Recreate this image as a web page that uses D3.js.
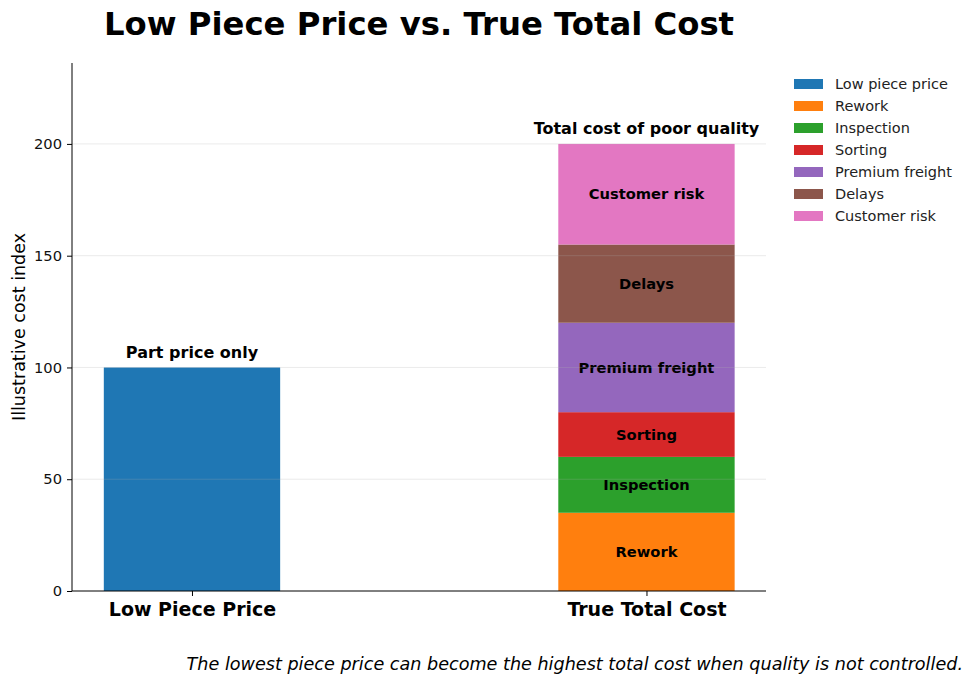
<!DOCTYPE html>
<html>
<head>
<meta charset="utf-8">
<script src="https://cdn.jsdelivr.net/npm/d3@7"></script>
<style>
  body { margin: 0; background: #fff; }
  text { font-family: "DejaVu Sans", sans-serif; }
</style>
</head>
<body>
<div id="chart"></div>
<script>
// chart data
const categories = ["Low Piece Price", "True Total Cost"]
const priceSeries = [{ name: "Low piece price", value: 100 }]
const costNames = ["Rework", "Inspection", "Sorting", "Premium freight", "Delays", "Customer risk"]
const costValues = [35, 25, 20, 40, 35, 45]
const legendNames = ["Low piece price", ...costNames]
const colors = ["#1f77b4", "#ff7f0e", "#2ca02c", "#d62728", "#9467bd", "#8c564b", "#e377c2"]
const yTicks = [0, 50, 100, 150, 200]

const width = 974
const height = 684
const margin = { left: 72, right: 208, top: 63, bottom: 93 }
const barWidth = 0.388

const svg = d3.select("#chart")
    .append("svg")
    .attr("width", width)
    .attr("height", height)

const x = d3.scaleLinear()
    .domain([-0.264, 1.263])
    .range([margin.left, width - margin.right])

const y = d3.scaleLinear()
    .domain([0, 236.2])
    .range([height - margin.bottom, margin.top])

const color = d3.scaleOrdinal(legendNames, colors)

// left bar
svg.append("g")
    .selectAll("rect")
    .data(priceSeries)
    .join("rect")
    .attr("x", x(0 - barWidth / 2))
    .attr("width", x(barWidth) - x(0))
    .attr("y", d => y(d.value))
    .attr("height", d => y(0) - y(d.value))
    .attr("fill", d => color(d.name))

svg.append("text")
    .attr("x", x(0))
    .attr("y", y(priceSeries[0].value) - 9)
    .attr("text-anchor", "middle")
    .style("font-size", "16px")
    .style("font-weight", "bold")
    .text("Part price only")

// stacked bar
const stackData = costNames.map((name, i) => ({
    name,
    start: d3.sum(costValues.slice(0, i)),
    end: d3.sum(costValues.slice(0, i + 1))
}))

const seg = svg.append("g")
    .selectAll("g")
    .data(stackData)
    .join("g")

seg.append("rect")
    .attr("x", x(1 - barWidth / 2))
    .attr("width", x(barWidth) - x(0))
    .attr("y", d => y(d.end))
    .attr("height", d => y(d.start) - y(d.end))
    .attr("fill", d => color(d.name))

seg.append("text")
    .attr("x", x(1))
    .attr("y", d => y((d.start + d.end) / 2))
    .attr("dy", "0.35em")
    .attr("text-anchor", "middle")
    .style("font-size", "14.7px")
    .style("font-weight", "bold")
    .text(d => d.name)

svg.append("text")
    .attr("x", x(1))
    .attr("y", y(d3.sum(costValues)) - 10)
    .attr("text-anchor", "middle")
    .style("font-size", "16px")
    .style("font-weight", "bold")
    .text("Total cost of poor quality")

// grid lines, faint, drawn over the bars
svg.append("g")
    .selectAll("line")
    .data(yTicks.slice(1))
    .join("line")
    .attr("x1", x.range()[0])
    .attr("x2", x.range()[1])
    .attr("y1", d => y(d))
    .attr("y2", d => y(d))
    .attr("stroke", "#b0b0b0")
    .attr("stroke-opacity", 0.25)
    .attr("stroke-width", 1)

// axes
const yAxis = svg.append("g")
    .attr("transform", `translate(${margin.left},0)`)
    .call(d3.axisLeft(y).tickValues(yTicks).tickSize(5).tickPadding(5))
yAxis.selectAll("text").style("font-size", "14.7px").attr("fill", "#111")
yAxis.select(".domain").attr("d", `M0,${y.range()[0]}V${y.range()[1]}`)

const xAxis = svg.append("g")
    .attr("transform", `translate(0,${height - margin.bottom})`)
    .call(d3.axisBottom(x).tickValues([0, 1]).tickSize(5).tickPadding(7)
        .tickFormat((d, i) => categories[i]))
xAxis.selectAll("text")
    .style("font-size", "19px")
    .style("font-weight", "bold")
    .attr("fill", "#000")
xAxis.select(".domain").attr("d", `M${x.range()[0]},0H${x.range()[1]}`)

svg.append("text")
    .attr("transform", `translate(25,${(y.range()[0] + y.range()[1]) / 2}) rotate(-90)`)
    .attr("text-anchor", "middle")
    .style("font-size", "17.5px")
    .text("Illustrative cost index")

// title
svg.append("text")
    .attr("x", (x.range()[0] + x.range()[1]) / 2)
    .attr("y", 35)
    .attr("text-anchor", "middle")
    .style("font-size", "32.3px")
    .style("font-weight", "bold")
    .text("Low Piece Price vs. True Total Cost")

// footer
svg.append("text")
    .attr("x", 963)
    .attr("y", 670)
    .attr("text-anchor", "end")
    .style("font-size", "17.6px")
    .style("font-style", "italic")
    .text("The lowest piece price can become the highest total cost when quality is not controlled.")

// legend
const legend = svg.append("g")
    .attr("transform", "translate(794,79)")
    .selectAll("g")
    .data(legendNames)
    .join("g")
    .attr("transform", (d, i) => `translate(0,${i * 22})`)

legend.append("rect")
    .attr("width", 29)
    .attr("height", 10)
    .attr("fill", d => color(d))

legend.append("text")
    .attr("x", 41)
    .attr("y", 5)
    .attr("dy", "0.35em")
    .style("font-size", "14.5px")
    .attr("fill", "#222")
    .text(d => d)
</script>
</body>
</html>
